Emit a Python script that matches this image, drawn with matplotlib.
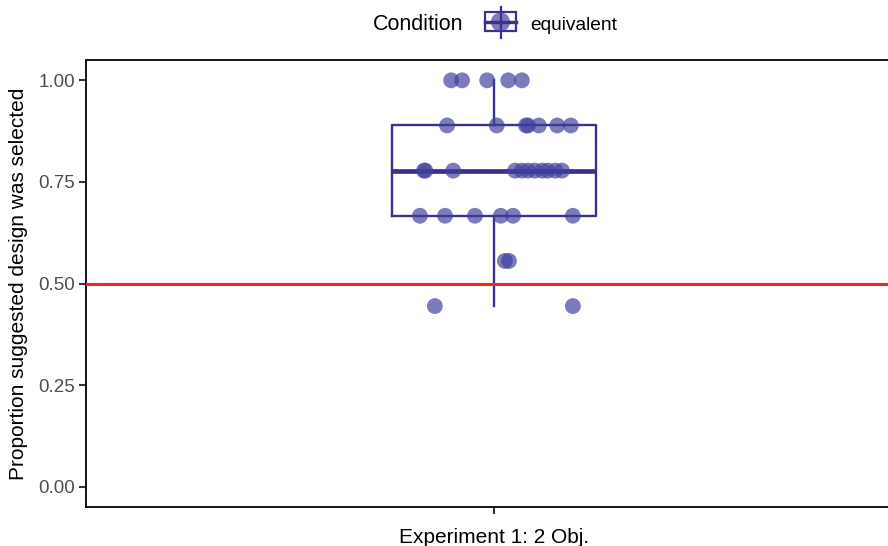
import matplotlib.pyplot as plt
from matplotlib.patches import Rectangle

plt.rcParams['font.family'] = ['Liberation Sans', 'DejaVu Sans']

## Data ##
category = "Experiment 1: 2 Obj."
condition = "equivalent"
# proportion values (ninths) and horizontal jitter of each point
prop = [1.0] * 5 + [8/9] * 7 + [7/9] * 11 + [6/9] * 6 + [5/9] * 2 + [4/9] * 2
jitter = [-0.063, -0.047, -0.010, 0.021, 0.041,
          -0.069, 0.004, 0.047, 0.050, 0.066, 0.093, 0.113,
          -0.103, -0.101, -0.060, 0.031, 0.041, 0.050, 0.060, 0.071, 0.079, 0.090, 0.100,
          -0.109, -0.072, -0.028, 0.010, 0.028, 0.116,
          0.016, 0.022,
          -0.087, 0.116]
chance = 0.5
yticks = [0.0, 0.25, 0.5, 0.75, 1.0]

box_col = '#3D2F8E'
pt_col = '#3E3E9C'
red = '#EE2A24'

fig = plt.figure(figsize=(8.88, 5.46), dpi=100)
W, H = 888, 546
ax = fig.add_axes([86 / W, (H - 507) / H, (902 - 86) / W, (507 - 60) / H])

# boxplot
ax.boxplot([prop], positions=[0], widths=0.3, showfliers=False, showcaps=False,
           boxprops=dict(color=box_col, linewidth=1.7),
           whiskerprops=dict(color=box_col, linewidth=1.7),
           medianprops=dict(color=box_col, linewidth=3.4),
           zorder=2)

# jittered points
ax.scatter(jitter, prop, s=130, color=pt_col, alpha=0.68,
           edgecolors='none', zorder=3)

# chance line
ax.axhline(chance, color=red, linewidth=2.2, zorder=4)

ax.set_xlim(-0.6, 0.6)
ax.set_ylim(-0.05, 1.05)
ax.set_xticks([0])
ax.set_xticklabels([category], fontsize=15, color='black')
ax.set_yticks(yticks)
ax.set_yticklabels(['%.2f' % v for v in yticks], fontsize=13.5, color='#4D4D4D')
ax.tick_params(length=5, width=1.5, color='#333333', pad=3)
ax.tick_params(axis='x', pad=10)
ax.set_ylabel('Proportion suggested design was selected', fontsize=15, labelpad=7)

for side in ['left', 'bottom', 'top']:
    ax.spines[side].set_linewidth(1.3)
ax.spines['right'].set_visible(False)

## Legend on top ##
fig.text(373 / W, 1 - 25 / H, 'Condition', fontsize=15.5, va='center', ha='left')
fig.text(530 / W, 1 - 25 / H, condition, fontsize=13.8, va='center', ha='left')
lax = fig.add_axes([480 / W, 1 - 44 / H, 40 / W, 40 / H])
lax.set_xlim(480, 520)
lax.set_ylim(44, 4)
lax.axis('off')
lax.plot([500.5, 500.5], [7, 38], color=box_col, lw=1.6)
lax.add_patch(Rectangle((485, 12), 31, 19, fill=False, edgecolor=box_col, lw=1.6))
lax.plot([485, 516], [22, 22], color=box_col, lw=2.5)
lax.scatter([500.5], [22], s=190, color=pt_col, alpha=0.68, edgecolors='none')

fig.savefig('out.png', dpi=100)
